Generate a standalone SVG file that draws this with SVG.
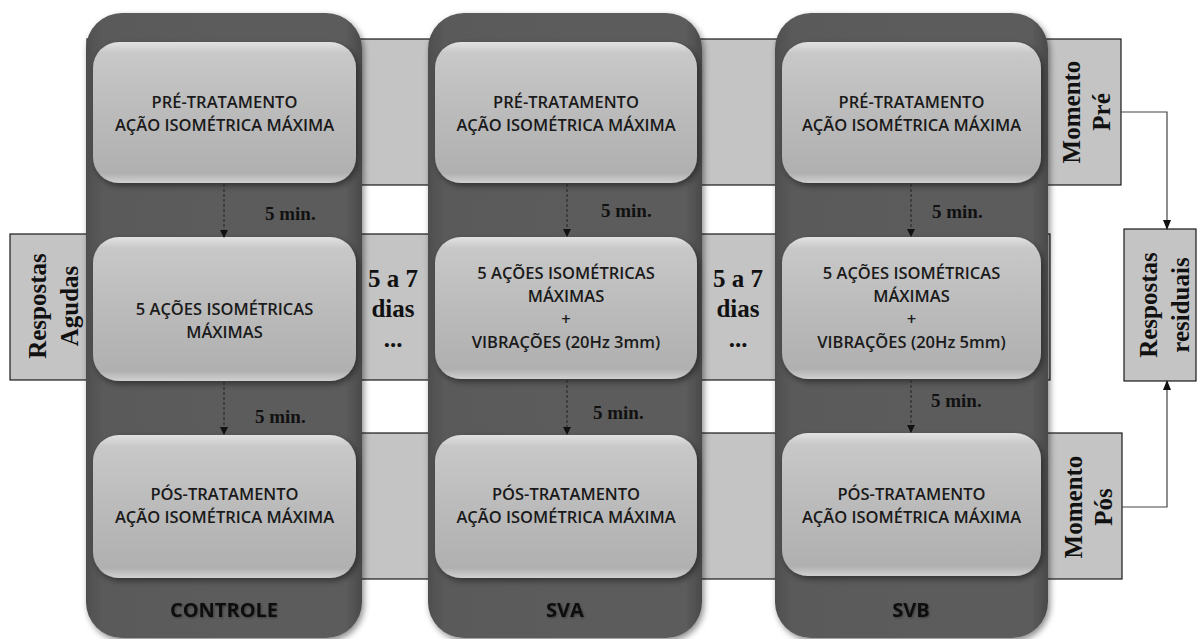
<svg xmlns="http://www.w3.org/2000/svg" width="1197" height="639" viewBox="0 0 1197 639">
<defs>
  <linearGradient id="colGrad" x1="0" y1="0" x2="1" y2="0">
    <stop offset="0" stop-color="#4e4e4e"/>
    <stop offset="0.06" stop-color="#5a5a5a"/>
    <stop offset="0.94" stop-color="#5c5c5c"/>
    <stop offset="1" stop-color="#4a4a4a"/>
  </linearGradient>
  <linearGradient id="boxGrad" x1="0" y1="0" x2="0" y2="1">
    <stop offset="0" stop-color="#e2e2e2"/>
    <stop offset="0.08" stop-color="#c8c8c8"/>
    <stop offset="0.5" stop-color="#bbbbbb"/>
    <stop offset="0.93" stop-color="#b0b0b0"/>
    <stop offset="1" stop-color="#d0d0d0"/>
  </linearGradient>
  <filter id="shadow" x="-10%" y="-10%" width="125%" height="125%">
    <feDropShadow dx="2" dy="3" stdDeviation="3" flood-color="#000" flood-opacity="0.45"/>
  </filter>
  <filter id="tshadow" x="-5%" y="-20%" width="110%" height="150%">
    <feDropShadow dx="1" dy="1" stdDeviation="0.8" flood-color="#000" flood-opacity="0.35"/>
  </filter>
  <marker id="arr" markerWidth="8" markerHeight="8" refX="7" refY="4" orient="auto" markerUnits="userSpaceOnUse">
    <path d="M0,0 L8,4 L0,8 Z" fill="#111"/>
  </marker>
  <marker id="arr2" markerWidth="10" markerHeight="10" refX="9" refY="5" orient="auto" markerUnits="userSpaceOnUse">
    <path d="M0,1 L10,5 L0,9 Z" fill="#111"/>
  </marker>
</defs>
<style>
  .band { fill: #c4c4c4; stroke: #1a1a1a; stroke-width: 1.2; }
  .col { fill: url(#colGrad); filter: url(#shadow); }
  .box { fill: url(#boxGrad); filter: url(#shadow); }
  .bt { font-family: "Open Sans", "Liberation Sans", sans-serif; font-weight: 600; font-size: 16.5px; fill: #1a1a1a; text-anchor: middle; }
  .lbl { font-family: "Open Sans", "Liberation Sans", sans-serif; font-weight: 700; font-size: 20px; fill: #111; text-anchor: middle; filter: url(#tshadow); }
  .tm { font-family: "Liberation Serif", "Times New Roman", serif; font-weight: 700; font-size: 19px; fill: #111; }
  .big { font-family: "Liberation Serif", "Times New Roman", serif; font-weight: 700; font-size: 25px; fill: #111; text-anchor: middle; }
  .dash { stroke: #222; stroke-width: 1; stroke-dasharray: 3 2; fill: none; }
  .conn { stroke: #444; stroke-width: 1.2; fill: none; }
</style>

<g id="bands">
  <rect id="band-pre" class="band" x="87" y="39" width="1034" height="146"/>
  <rect id="band-agudas" class="band" x="10" y="234" width="1040" height="146"/>
  <rect id="band-pos" class="band" x="300" y="433" width="822" height="146"/>
</g>

<g id="label-respostas-agudas">
  <text class="big" transform="translate(46,306) rotate(-90)">Respostas</text>
  <text class="big" transform="translate(78,306) rotate(-90)">Agudas</text>
</g>
<g id="label-momento-pre">
  <text class="big" transform="translate(1080,112) rotate(-90)">Momento</text>
  <text class="big" transform="translate(1110,112) rotate(-90)">Pré</text>
</g>
<g id="label-momento-pos">
  <text class="big" transform="translate(1082,507) rotate(-90)">Momento</text>
  <text class="big" transform="translate(1112,507) rotate(-90)">Pós</text>
</g>
<g id="gap1">
  <text class="big" x="393" y="287">5 a 7</text>
  <text class="big" x="393" y="317">dias</text>
  <text class="big" x="393" y="347">...</text>
</g>
<g id="gap2">
  <text class="big" x="738" y="287">5 a 7</text>
  <text class="big" x="738" y="317">dias</text>
  <text class="big" x="738" y="347">...</text>
</g>

<g id="residuais">
  <rect class="band" x="1124" y="229" width="72" height="152"/>
  <text class="big" transform="translate(1157,305) rotate(-90)">Respostas</text>
  <text class="big" transform="translate(1189,305) rotate(-90)">residuais</text>
</g>

<g id="controle">
  <rect class="col" x="86" y="13" width="276" height="625" rx="36"/>
  <text class="lbl" x="224" y="617">CONTROLE</text>
  <g id="controle-pre">
    <rect class="box" x="93" y="42" width="263" height="141" rx="26"/>
    <text class="bt" x="224.5" y="108">PRÉ-TRATAMENTO</text>
    <text class="bt" x="224.5" y="131">AÇÃO ISOMÉTRICA MÁXIMA</text>
  </g>
  <g id="controle-acoes">
    <rect class="box" x="93" y="237" width="263" height="144" rx="26"/>
    <text class="bt" x="224.5" y="315">5 AÇÕES ISOMÉTRICAS</text>
    <text class="bt" x="224.5" y="338">MÁXIMAS</text>
  </g>
  <g id="controle-pos">
    <rect class="box" x="93" y="435" width="263" height="143" rx="26"/>
    <text class="bt" x="224.5" y="500">PÓS-TRATAMENTO</text>
    <text class="bt" x="224.5" y="523">AÇÃO ISOMÉTRICA MÁXIMA</text>
  </g>
</g>

<g id="sva">
  <rect class="col" x="428" y="13" width="274" height="625" rx="36"/>
  <text class="lbl" x="565" y="617">SVA</text>
  <g id="sva-pre">
    <rect class="box" x="435" y="42" width="262" height="141" rx="26"/>
    <text class="bt" x="566" y="108">PRÉ-TRATAMENTO</text>
    <text class="bt" x="566" y="131">AÇÃO ISOMÉTRICA MÁXIMA</text>
  </g>
  <g id="sva-acoes">
    <rect class="box" x="435" y="237" width="262" height="142" rx="26"/>
    <text class="bt" x="566" y="279">5 AÇÕES ISOMÉTRICAS</text>
    <text class="bt" x="566" y="302">MÁXIMAS</text>
    <text class="bt" x="566" y="325">+</text>
    <text class="bt" x="566" y="348">VIBRAÇÕES (20Hz 3mm)</text>
  </g>
  <g id="sva-pos">
    <rect class="box" x="435" y="435" width="262" height="143" rx="26"/>
    <text class="bt" x="566" y="500">PÓS-TRATAMENTO</text>
    <text class="bt" x="566" y="523">AÇÃO ISOMÉTRICA MÁXIMA</text>
  </g>
</g>

<g id="svb">
  <rect class="col" x="775" y="13" width="273" height="625" rx="36"/>
  <text class="lbl" x="911" y="617">SVB</text>
  <g id="svb-pre">
    <rect class="box" x="782" y="42" width="259" height="141" rx="26"/>
    <text class="bt" x="911.5" y="108">PRÉ-TRATAMENTO</text>
    <text class="bt" x="911.5" y="131">AÇÃO ISOMÉTRICA MÁXIMA</text>
  </g>
  <g id="svb-acoes">
    <rect class="box" x="782" y="237" width="259" height="142" rx="26"/>
    <text class="bt" x="911.5" y="279">5 AÇÕES ISOMÉTRICAS</text>
    <text class="bt" x="911.5" y="302">MÁXIMAS</text>
    <text class="bt" x="911.5" y="325">+</text>
    <text class="bt" x="911.5" y="348">VIBRAÇÕES (20Hz 5mm)</text>
  </g>
  <g id="svb-pos">
    <rect class="box" x="782" y="433" width="259" height="143" rx="26"/>
    <text class="bt" x="911.5" y="500">PÓS-TRATAMENTO</text>
    <text class="bt" x="911.5" y="523">AÇÃO ISOMÉTRICA MÁXIMA</text>
  </g>
</g>

<g id="connectors">
  <line class="dash" x1="224" y1="184" x2="224" y2="237" marker-end="url(#arr)"/>
  <line class="dash" x1="224" y1="382" x2="224" y2="434" marker-end="url(#arr)"/>
  <line class="dash" x1="567" y1="184" x2="567" y2="236" marker-end="url(#arr)"/>
  <line class="dash" x1="567" y1="380" x2="567" y2="434" marker-end="url(#arr)"/>
  <line class="dash" x1="911" y1="184" x2="911" y2="236" marker-end="url(#arr)"/>
  <line class="dash" x1="911" y1="380" x2="911" y2="432" marker-end="url(#arr)"/>
  <polyline class="conn" points="1121,112 1167,112 1167,229" marker-end="url(#arr2)"/>
  <polyline class="conn" points="1122,507 1167,507 1167,381" marker-end="url(#arr2)"/>
</g>

<g id="min-labels">
  <text class="tm" x="265" y="220">5 min.</text>
  <text class="tm" x="255" y="423">5 min.</text>
  <text class="tm" x="601" y="217">5 min.</text>
  <text class="tm" x="593" y="419">5 min.</text>
  <text class="tm" x="932" y="218">5 min.</text>
  <text class="tm" x="931" y="407">5 min.</text>
</g>
</svg>
